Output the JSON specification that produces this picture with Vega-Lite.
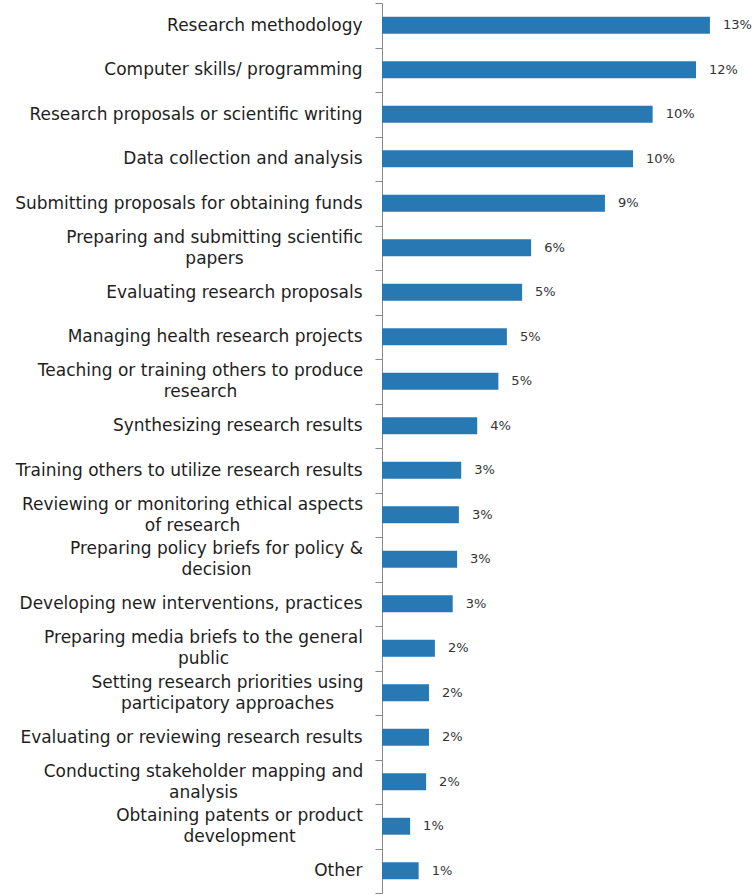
{
  "$schema": "https://vega.github.io/schema/vega-lite/v6.json",
  "width": 373,
  "height": 890,
  "autosize": {"type": "none"},
  "padding": {"left": 382, "top": 3, "right": 0, "bottom": 3},
  "background": "white",
  "config": {"view": {"stroke": null}},
  "data": {
    "values": [
      {"skill": "Research methodology", "share": 0.1271},
      {"skill": "Computer skills/ programming", "share": 0.1217},
      {"skill": "Research proposals or scientific writing", "share": 0.1049},
      {"skill": "Data collection and analysis", "share": 0.0973},
      {"skill": "Submitting proposals for obtaining funds", "share": 0.0864},
      {"skill": "Preparing and submitting scientific|papers", "share": 0.0578},
      {"skill": "Evaluating research proposals", "share": 0.0543},
      {"skill": "Managing health research projects", "share": 0.0484},
      {"skill": "Teaching or training others to produce|research", "share": 0.0451},
      {"skill": "Synthesizing  research results", "share": 0.0369},
      {"skill": "Training others to utilize research results", "share": 0.0307},
      {"skill": "Reviewing  or monitoring ethical aspects|of research", "share": 0.0298},
      {"skill": "Preparing policy briefs for policy &|decision", "share": 0.0291},
      {"skill": "Developing new interventions, practices", "share": 0.0274},
      {"skill": "Preparing media briefs to the general|public", "share": 0.0205},
      {"skill": "Setting research priorities using|participatory approaches", "share": 0.0182},
      {"skill": "Evaluating or reviewing research results", "share": 0.0182},
      {"skill": "Conducting stakeholder mapping and|analysis", "share": 0.0171},
      {"skill": "Obtaining patents or product|development", "share": 0.0109},
      {"skill": "Other", "share": 0.0142}
    ]
  },
  "encoding": {
    "y": {
      "field": "skill",
      "type": "nominal",
      "sort": null,
      "scale": {"paddingInner": 0, "paddingOuter": 0},
      "axis": {
        "title": null,
        "labelExpr": "isValid(datum.value) ? split(datum.value, '|') : ''",
        "labelFont": "DejaVu Sans",
        "labelFontSize": 17,
        "labelColor": "#1e1e1e",
        "labelLineHeight": 21,
        "labelLimit": 400,
        "labelAlign": {"condition": {"test": "isValid(datum.value) && indexof(datum.value, '|') >= 0", "value": "center"}, "value": "right"},
        "labelPadding": {
          "condition": [
            {"test": "datum.value === 'Preparing and submitting scientific|papers'", "value": 161},
            {"test": "datum.value === 'Teaching or training others to produce|research'", "value": 175},
            {"test": "datum.value === 'Reviewing  or monitoring ethical aspects|of research'", "value": 183},
            {"test": "datum.value === 'Preparing policy briefs for policy &|decision'", "value": 159},
            {"test": "datum.value === 'Preparing media briefs to the general|public'", "value": 172},
            {"test": "datum.value === 'Setting research priorities using|participatory approaches'", "value": 148},
            {"test": "datum.value === 'Conducting stakeholder mapping and|analysis'", "value": 172},
            {"test": "datum.value === 'Obtaining patents or product|development'", "value": 136}
          ],
          "value": 13
        },
        "labelOffset": {"condition": {"test": "isValid(datum.value) && indexof(datum.value, '|') >= 0", "value": -10.5}, "value": 0},
        "tickSize": 7,
        "tickColor": "#888888",
        "domainColor": "#888888",
        "tickBand": "extent"
      }
    },
    "x": {
      "field": "share",
      "type": "quantitative",
      "scale": {"domain": [0, 0.14457]},
      "axis": null
    }
  },
  "layer": [
    {"mark": {"type": "bar", "color": "#2878b4", "height": {"band": 0.38}}},
    {
      "mark": {"type": "text", "align": "left", "dx": 13, "font": "DejaVu Sans", "fontSize": 13, "color": "#333333"},
      "encoding": {"text": {"field": "share", "format": ".0%"}}
    }
  ]
}
